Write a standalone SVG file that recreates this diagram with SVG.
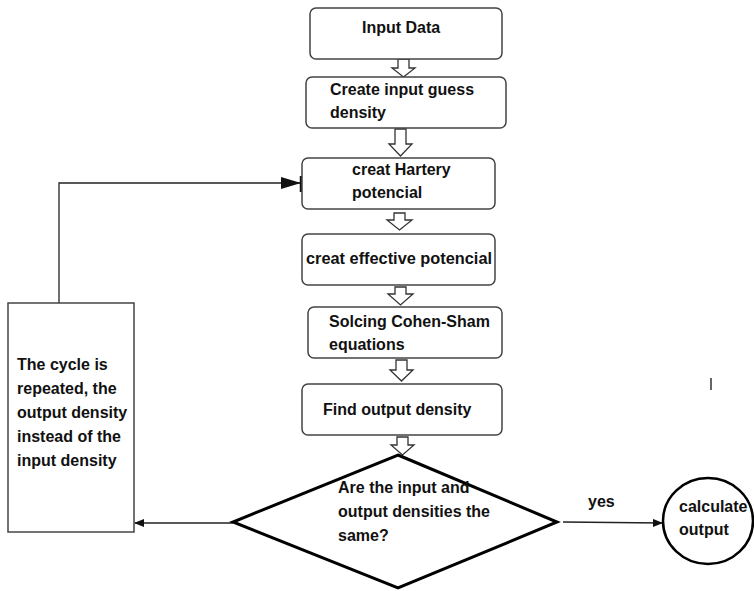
<svg xmlns="http://www.w3.org/2000/svg" width="754" height="591" viewBox="0 0 754 591">
<style>
.box{fill:#fff;stroke:#444;stroke-width:1.5}
.t{font-family:"Liberation Sans",Arial,sans-serif;font-weight:bold;font-size:16px;fill:#111}
.blk{fill:#fff;stroke:#333;stroke-width:1.3}
.ln{fill:none;stroke:#222;stroke-width:1.3}
</style>
<defs>
<marker id="ah" markerWidth="10" markerHeight="8" refX="9" refY="4" orient="auto" markerUnits="userSpaceOnUse">
<path d="M0,0 L10,4 L0,8 Z" fill="#111"/>
</marker>
<marker id="ahb" markerWidth="20" markerHeight="12" refX="19" refY="6" orient="auto" markerUnits="userSpaceOnUse">
<path d="M0,0 L20,6 L0,12 Z" fill="#111"/>
</marker>
</defs>
<rect width="754" height="591" fill="#fff"/>

<g id="connectors">
<path class="blk" d="M398,59 H409 V68 H415 L403.5,77 L392,68 H398 Z"/>
<path class="blk" d="M395,129 H406 V144 H412 L400.5,156 L389,144 H395 Z"/>
<path class="blk" d="M394,213 H405 V220 H412 L399.5,230 L387,220 H394 Z"/>
<path class="blk" d="M395,287 H406 V294 H413 L400.5,305 L388,294 H395 Z"/>
<path class="blk" d="M396,360 H407 V370 H413 L401.5,381 L390,370 H396 Z"/>
<path class="blk" d="M397,437 H408 V445 H414 L402.5,455 L391,445 H397 Z"/>
<path class="ln" d="M59,303 V183 H300" marker-end="url(#ahb)"/>
<line x1="301" y1="176" x2="301" y2="192" stroke="#111" stroke-width="2.5"/>
<line class="ln" x1="233" y1="523" x2="135" y2="523" marker-end="url(#ah)"/>
<line class="ln" x1="563" y1="522" x2="662" y2="523" marker-end="url(#ah)"/>
<text class="t" x="588" y="507">yes</text>
</g>

<g id="n1"><rect class="box" x="310" y="8" width="192" height="51" rx="6"/><text class="t" x="362" y="33">Input Data</text></g>
<g id="n2"><rect class="box" x="306" y="77" width="200" height="51" rx="6"/><text class="t" x="330" y="95">Create input guess</text><text class="t" x="330" y="118">density</text></g>
<g id="n3"><rect class="box" x="302" y="158" width="193" height="51" rx="6"/><text class="t" x="352" y="175">creat Hartery</text><text class="t" x="352" y="198">potencial</text></g>
<g id="n4"><rect class="box" x="302" y="234" width="193" height="51" rx="6"/><text class="t" x="306" y="264" textLength="186" lengthAdjust="spacingAndGlyphs">creat effective potencial</text></g>
<g id="n5"><rect class="box" x="308" y="307" width="194" height="51" rx="6"/><text class="t" x="329" y="327">Solcing Cohen-Sham</text><text class="t" x="329" y="350">equations</text></g>
<g id="n6"><rect class="box" x="302" y="384" width="200" height="51" rx="6"/><text class="t" x="323" y="415">Find output density</text></g>
<g id="n7"><path d="M398,455 L557,522 L398,588 L233,522 Z" fill="#fff" stroke="#000" stroke-width="3"/><text class="t" x="338" y="493">Are the input and</text><text class="t" x="338" y="517">output densities the</text><text class="t" x="338" y="541">same?</text></g>
<g id="n8"><rect x="8" y="303" width="126" height="229" fill="#fff" stroke="#444" stroke-width="1.5"/><text class="t" x="17" y="370">The cycle is</text><text class="t" x="17" y="394">repeated, the</text><text class="t" x="17" y="418">output density</text><text class="t" x="17" y="442">instead of the</text><text class="t" x="17" y="466">input density</text></g>
<g id="n9"><ellipse cx="708" cy="521" rx="45" ry="43" fill="#fff" stroke="#000" stroke-width="2.5"/><text class="t" x="679" y="512">calculate</text><text class="t" x="679" y="535">output</text></g>
<line x1="711" y1="378" x2="711" y2="390" stroke="#333" stroke-width="1.5"/>
</svg>
